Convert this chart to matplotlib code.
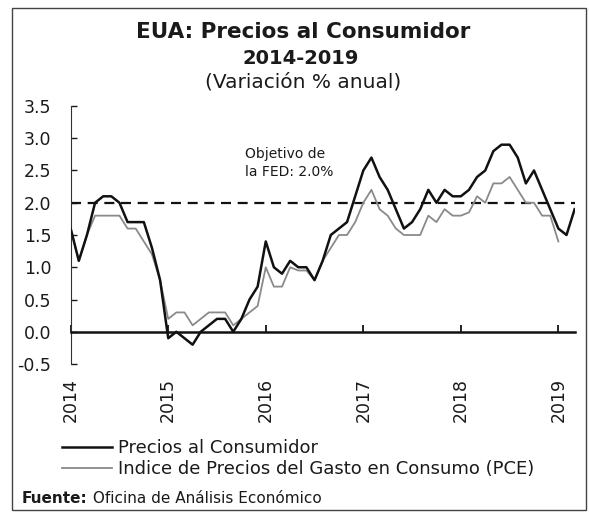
"""EUA: Precios al Consumidor 2014-2019 (variacion % anual)."""

import matplotlib
matplotlib.use("Agg")
import matplotlib.pyplot as plt
from matplotlib.lines import Line2D
from matplotlib.patches import Rectangle

# monthly values, Jan 2014 .. Mar 2019
cpi = [1.6, 1.1, 1.5, 2.0, 2.1, 2.1, 2.0, 1.7, 1.7, 1.7, 1.3, 0.8,
       -0.1, 0.0, -0.1, -0.2, 0.0, 0.1, 0.2, 0.2, 0.0, 0.2, 0.5, 0.7,
       1.4, 1.0, 0.9, 1.1, 1.0, 1.0, 0.8, 1.1, 1.5, 1.6, 1.7, 2.1,
       2.5, 2.7, 2.4, 2.2, 1.9, 1.6, 1.7, 1.9, 2.2, 2.0, 2.2, 2.1,
       2.1, 2.2, 2.4, 2.5, 2.8, 2.9, 2.9, 2.7, 2.3, 2.5, 2.2, 1.9,
       1.6, 1.5, 1.9]
# Jan 2014 .. Jan 2019
pce = [1.6, 1.1, 1.5, 1.8, 1.8, 1.8, 1.8, 1.6, 1.6, 1.4, 1.2, 0.8,
       0.2, 0.3, 0.3, 0.1, 0.2, 0.3, 0.3, 0.3, 0.1, 0.2, 0.3, 0.4,
       1.0, 0.7, 0.7, 1.0, 0.95, 0.95, 0.8, 1.1, 1.3, 1.5, 1.5, 1.7,
       2.0, 2.2, 1.9, 1.8, 1.6, 1.5, 1.5, 1.5, 1.8, 1.7, 1.9, 1.8,
       1.8, 1.85, 2.1, 2.0, 2.3, 2.3, 2.4, 2.2, 2.0, 2.0, 1.8, 1.8,
       1.4]
years = ["2014", "2015", "2016", "2017", "2018", "2019"]
yticks = [-0.5, 0.0, 0.5, 1.0, 1.5, 2.0, 2.5, 3.0, 3.5]
fed_target = 2.0

TXT = "#1a1a1a"
plt.rcParams["font.family"] = ["DejaVu Sans"]

fig = plt.figure(figsize=(5.89, 5.12), dpi=100)
ax = fig.add_axes([0.120, 0.289, 0.857, 0.504])

ax.plot(range(len(pce)), pce, color="#8a8a8a", lw=1.3, zorder=3)
ax.plot(range(len(cpi)), cpi, color="#111111", lw=1.8, zorder=4)
ax.axhline(fed_target, color="#111111", lw=1.6, ls=(0, (4.5, 3)), zorder=2)

ax.set_xlim(0, 62.1)
ax.set_ylim(-0.5, 3.5)
ax.set_yticks(yticks)
ax.set_yticklabels([f"{v:.1f}" for v in yticks])
ax.tick_params(axis="y", direction="in", length=4, width=1, pad=14,
               labelsize=12.5, colors=TXT)

for s in ("top", "right"):
    ax.spines[s].set_visible(False)
ax.spines["left"].set_color("#333333")
ax.spines["bottom"].set_position(("data", 0))
ax.spines["bottom"].set_linewidth(1.8)
ax.spines["bottom"].set_color("#111111")
ax.set_xticks(range(0, 61, 12))
ax.tick_params(axis="x", direction="in", length=5, width=1.2, labelbottom=False)

sec = ax.secondary_xaxis("bottom")
sec.set_xticks(range(0, 61, 12))
sec.set_xticklabels(years, rotation=90)
sec.spines["bottom"].set_visible(False)
sec.tick_params(length=0, pad=10, labelsize=12.5, colors=TXT)

ax.text(21.4, 2.62, "Objetivo de\nla FED: 2.0%", fontsize=10, color=TXT,
        va="center", ha="left", linespacing=1.4)

fig.text(0.514, 0.9375, "EUA: Precios al Consumidor", ha="center", va="center",
         fontsize=15.5, fontweight="bold", color=TXT)
fig.text(0.51, 0.885, "2014-2019", ha="center", va="center",
         fontsize=14, fontweight="bold", color=TXT)
fig.text(0.514, 0.84, "(Variación % anual)", ha="center", va="center",
         fontsize=14.5, color=TXT)

handles = [Line2D([], [], color="#111111", lw=1.8),
           Line2D([], [], color="#8a8a8a", lw=1.3)]
fig.legend(handles, ["Precios al Consumidor",
                     "Indice de Precios del Gasto en Consumo (PCE)"],
           loc="upper left", bbox_to_anchor=(0.105, 0.142), frameon=False,
           fontsize=13, handlelength=2.8, handletextpad=0.3,
           labelspacing=0.14, borderpad=0, borderaxespad=0, labelcolor=TXT)

src = fig.text(0.037, 0.027, "Fuente:", fontsize=11, fontweight="bold",
               color=TXT, va="center", ha="left")
fig.text(0, 0, " Oficina de Análisis Económico", fontsize=11, color=TXT,
         va="bottom", ha="left", transform=src.get_transform())
fig.canvas.draw()
bb = src.get_window_extent().transformed(fig.transFigure.inverted())
fig.texts[-1].set_position((bb.x1, bb.y0))
fig.texts[-1].set_transform(fig.transFigure)

fig.patches.append(Rectangle((0.02, 0.004), 0.975, 0.98, transform=fig.transFigure,
                             fill=False, edgecolor="#444444", lw=1.0))

fig.savefig("out.png", dpi=100)
print("Saved: out.png")
